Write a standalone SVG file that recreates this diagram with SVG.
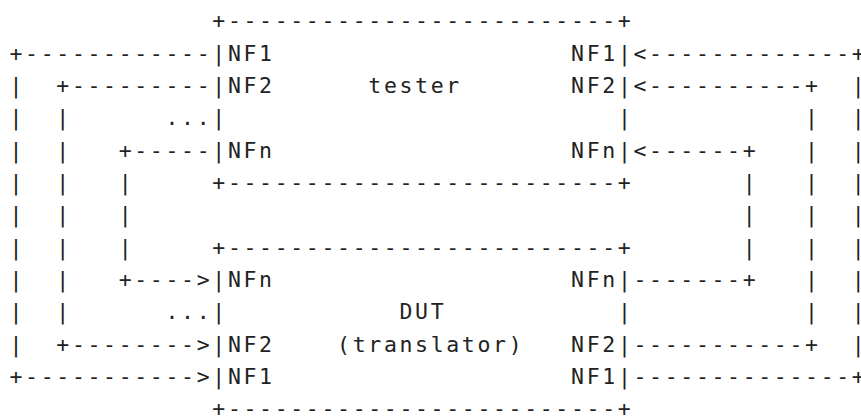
<svg xmlns="http://www.w3.org/2000/svg" width="861" height="419" viewBox="0 0 861 419">
<style>
text{font-family:"DejaVu Sans Mono","Liberation Mono",monospace;font-size:21.5px;letter-spacing:2.65px;fill:#222;white-space:pre}
</style>
<rect width="861" height="419" fill="#fff"/>
<g id="tester">
<text x="212.3" y="28.4" xml:space="preserve">+-------------------------+</text>
<text x="212.3" y="60.7">|NF1</text><text x="571.1" y="60.7">NF1|</text>
<text x="212.3" y="93.1">|NF2</text><text x="368.3" y="93.1">tester</text><text x="571.1" y="93.1">NF2|</text>
<text x="212.3" y="125.4">|</text><text x="617.9" y="125.4">|</text>
<text x="212.3" y="157.7">|NFn</text><text x="571.1" y="157.7">NFn|</text>
<text x="212.3" y="190.1">+-------------------------+</text>
</g>
<g id="dut">
<text x="212.3" y="254.7">+-------------------------+</text>
<text x="212.3" y="287.0">|NFn</text><text x="571.1" y="287.0">NFn|</text>
<text x="212.3" y="319.4">|</text><text x="399.5" y="319.4">DUT</text><text x="617.9" y="319.4">|</text>
<text x="212.3" y="351.7">|NF2</text><text x="337.1" y="351.7">(translator)</text><text x="571.1" y="351.7">NF2|</text>
<text x="212.3" y="384.0">|NF1</text><text x="571.1" y="384.0">NF1|</text>
<text x="212.3" y="416.4">+-------------------------+</text>
</g>
<g id="connectors" xml:space="preserve">
<text x="9.5" y="60.7">+------------</text>
<text x="9.5" y="93.1">|  +---------</text>
<text x="9.5" y="125.4">|  |      ...</text>
<text x="9.5" y="157.7">|  |   +-----</text>
<text x="9.5" y="190.1">|  |   |</text>
<text x="9.5" y="222.4">|  |   |</text>
<text x="9.5" y="254.7">|  |   |</text>
<text x="9.5" y="287.0">|  |   +----&gt;</text>
<text x="9.5" y="319.4">|  |      ...</text>
<text x="9.5" y="351.7">|  +--------&gt;</text>
<text x="9.5" y="384.0">+-----------&gt;</text>
<text x="633.5" y="60.7">&lt;-------------+</text>
<text x="633.5" y="93.1">&lt;----------+  |</text>
<text x="804.9" y="125.4">|  |</text>
<text x="633.5" y="157.7">&lt;------+   |  |</text>
<text x="742.7" y="190.1">|   |  |</text>
<text x="742.7" y="222.4">|   |  |</text>
<text x="742.7" y="254.7">|   |  |</text>
<text x="633.5" y="287.0">-------+   |  |</text>
<text x="804.9" y="319.4">|  |</text>
<text x="633.5" y="351.7">-----------+  |</text>
<text x="633.5" y="384.0">--------------+</text>
</g>
</svg>
